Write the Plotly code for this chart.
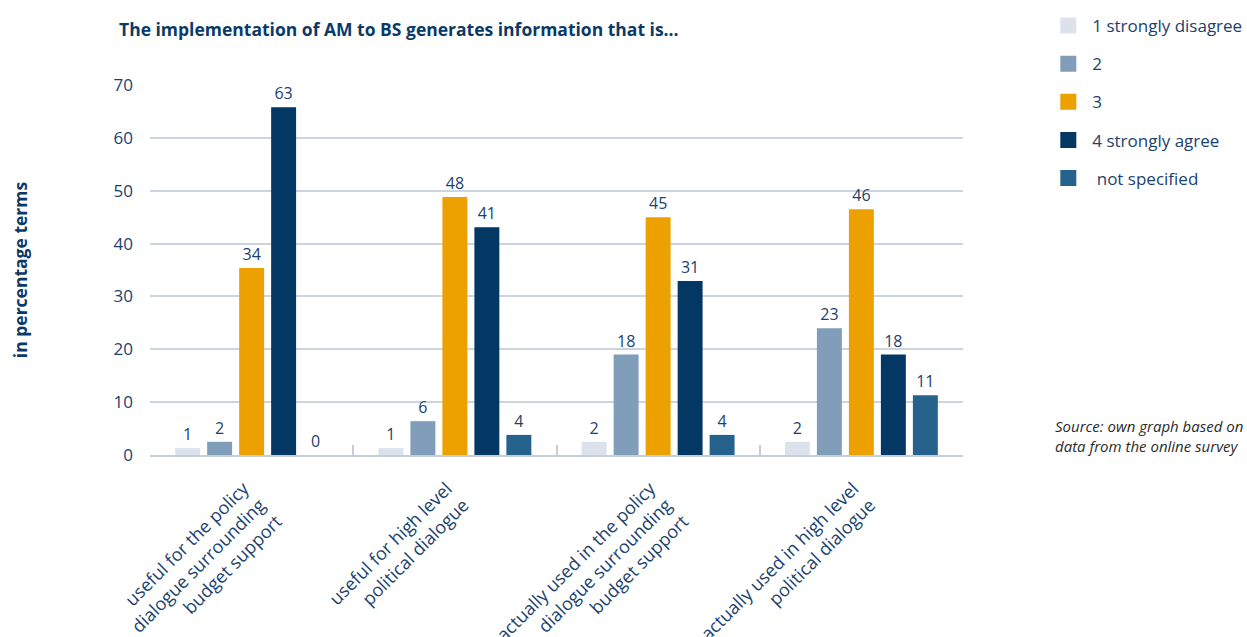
import plotly.graph_objects as go

categories = [
    "useful for the policy<br>dialogue surrounding<br>budget support",
    "useful for high level<br>political dialogue",
    "actually used in the policy<br>dialogue surrounding<br>budget support",
    "actually used in high level<br>political dialogue",
]
series_names = ["1 strongly disagree", "2", "3", "4 strongly agree", " not specified"]
# bar heights as drawn in the picture
values_1 = [1.3, 1.3, 2.5, 2.5]
values_2 = [2.5, 6.4, 19.0, 24.0]
values_3 = [35.4, 48.8, 45.0, 46.5]
values_4 = [65.8, 43.1, 32.9, 19.0]
values_ns = [0, 3.8, 3.8, 11.3]
# printed value labels
labels_1 = ["1", "1", "2", "2"]
labels_2 = ["2", "6", "18", "23"]
labels_3 = ["34", "48", "45", "46"]
labels_4 = ["63", "41", "31", "18"]
labels_ns = ["0", "4", "4", "11"]
colors = ["#dbe2ec", "#809db9", "#eca100", "#033764", "#25638d"]

y_ticks = [0, 10, 20, 30, 40, 50, 60, 70]

FONT = "Open Sans"
TXT = "#1b426d"

fig = go.Figure()
all_vals = [values_1, values_2, values_3, values_4, values_ns]
all_labels = [labels_1, labels_2, labels_3, labels_4, labels_ns]
for name, vals, labs, col in zip(series_names, all_vals, all_labels, colors):
    fig.add_trace(go.Bar(
        x=categories, y=vals, name=name, marker_color=col, marker_line_width=0,
        text=labs, textposition="outside", cliponaxis=False,
        textfont=dict(family=FONT, size=16, color=TXT),
        showlegend=False,
    ))
# legend entries
for i, (name, col) in enumerate(zip(series_names, colors)):
    fig.add_trace(go.Scatter(
        x=[None], y=[None], mode="markers", name=name,
        marker=dict(symbol="square", size=16, color=col),
        legendgroup=str(i), showlegend=True,
    ))

fig.update_layout(
    width=1247, height=637,
    margin=dict(l=150, r=284, t=85, b=182, autoexpand=False),
    paper_bgcolor="white", plot_bgcolor="white",
    barmode="group", bargap=0.213, bargroupgap=0.22,
    font=dict(family=FONT, color=TXT),
    legend=dict(
        x=1.1, y=1.208, xanchor="left", yanchor="top",
        font=dict(family=FONT, size=17, color=TXT),
        traceorder="grouped", tracegroupgap=13, itemsizing="trace", itemwidth=38,
    ),
    annotations=[
        dict(text="<b>The implementation of AM to BS generates information that is...</b>",
             xref="paper", yref="paper", x=-0.041, y=1.151, xanchor="left", yanchor="middle",
             showarrow=False, font=dict(family=FONT, size=17.5, color="#0b3a68")),
        dict(text="<i>Source: own graph based on<br>data from the online survey</i>",
             xref="paper", yref="paper", x=1.111, y=0.051, xanchor="left", yanchor="middle",
             showarrow=False, align="left", font=dict(family=FONT, size=15, color="#2a2a2a")),
    ],
)
fig.update_yaxes(
    range=[0, 70], tickvals=y_ticks, showgrid=True, gridcolor="#ccd4e0", gridwidth=1.5,
    zeroline=False, tickfont=dict(family=FONT, size=17, color=TXT),
    ticklabelstandoff=16, automargin=False,
    title=dict(text="<b>in percentage terms</b>", font=dict(family=FONT, size=17.5, color="#0b3a68"),
               standoff=81),
)
fig.update_xaxes(
    tickson="boundaries", ticks="inside", ticklen=10, tickcolor="#c5cdd9", tickwidth=1.5,
    showline=True, linecolor="#c5cdd9", linewidth=2, automargin=False,
    tickangle=-45, tickfont=dict(family=FONT, size=18, color=TXT),
    ticklabelshift=-8, ticklabelstandoff=14,
)

fig.write_html("out.html", config={"displayModeBar": False},
               post_script="document.body.style.margin='0';")
